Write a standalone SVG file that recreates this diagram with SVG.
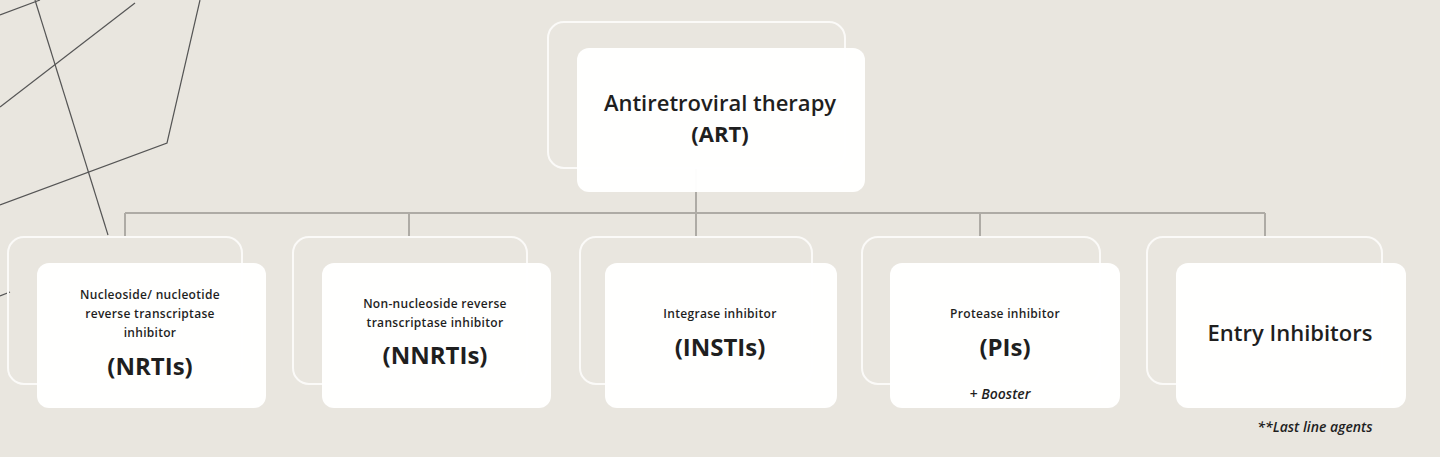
<svg xmlns="http://www.w3.org/2000/svg" width="1440" height="457" viewBox="0 0 1440 457">
<style>
.bg{fill:#e9e6df}
.back{fill:none;stroke:#fbfaf8;stroke-width:2}
.front{fill:#ffffff;fill-opacity:0.97}
.deco{fill:none;stroke:#555;stroke-width:1.2}
.conn{fill:none;stroke:#aeaba5;stroke-width:2}
text{font-family:"Open Sans","Liberation Sans",sans-serif;fill:#1f1f1f;text-anchor:middle}
.sm{font-size:12px;font-weight:600;letter-spacing:0.3px}
.big{font-size:24px;font-weight:bold}
.mid{font-size:22px;font-weight:600}
.it{font-size:14px;font-style:italic;font-weight:600}
</style>
<rect class="bg" width="1440" height="457"/>
<g id="decoration">
<path class="deco" d="M0 15 L40 0"/>
<path class="deco" d="M0 107 L135 3"/>
<path class="deco" d="M35 0 L108 235"/>
<path class="deco" d="M200 0 L167 143 L0 205"/>
<path class="deco" d="M0 296 L10 292"/>
</g>
<g id="connectors">
<path class="conn" d="M696 168 V213 M125 213 H1265 M125 213 V237 M409 213 V237 M696 213 V237 M980 213 V237 M1265 213 V237"/>
</g>
<g id="art">
<rect class="back" x="548" y="22" width="297" height="146" rx="16"/>
<rect class="front" x="577" y="48" width="288" height="144" rx="12"/>
<text x="720" y="111" class="mid">Antiretroviral therapy</text>
<text x="720" y="142" class="mid" style="font-weight:bold">(ART)</text>
</g>
<g id="nrti">
<rect class="back" x="8" y="237" width="234" height="147" rx="16"/>
<rect class="front" x="37" y="263" width="229" height="145" rx="12"/>
<text x="150" y="299" class="sm">Nucleoside/ nucleotide</text>
<text x="150" y="318" class="sm">reverse transcriptase</text>
<text x="150" y="337" class="sm">inhibitor</text>
<text x="150" y="375" class="big">(NRTIs)</text>
</g>
<g id="nnrti">
<rect class="back" x="293" y="237" width="234" height="147" rx="16"/>
<rect class="front" x="322" y="263" width="229" height="145" rx="12"/>
<text x="435" y="308" class="sm">Non-nucleoside reverse</text>
<text x="435" y="327" class="sm">transcriptase inhibitor</text>
<text x="435" y="364" class="big">(NNRTIs)</text>
</g>
<g id="insti">
<rect class="back" x="580" y="237" width="232" height="147" rx="16"/>
<rect class="front" x="605" y="263" width="232" height="145" rx="12"/>
<text x="720" y="318" class="sm">Integrase inhibitor</text>
<text x="720" y="356" class="big">(INSTIs)</text>
</g>
<g id="pi">
<rect class="back" x="862" y="237" width="238" height="147" rx="16"/>
<rect class="front" x="890" y="263" width="230" height="145" rx="12"/>
<text x="1005" y="318" class="sm">Protease inhibitor</text>
<text x="1005" y="356" class="big">(PIs)</text>
<text x="1000" y="399" class="it">+ Booster</text>
</g>
<g id="entry">
<rect class="back" x="1147" y="237" width="235" height="147" rx="16"/>
<rect class="front" x="1176" y="263" width="230" height="145" rx="12"/>
<text x="1290" y="341" class="mid">Entry Inhibitors</text>
</g>
<text x="1315" y="432" class="it">**Last line agents</text>
</svg>
